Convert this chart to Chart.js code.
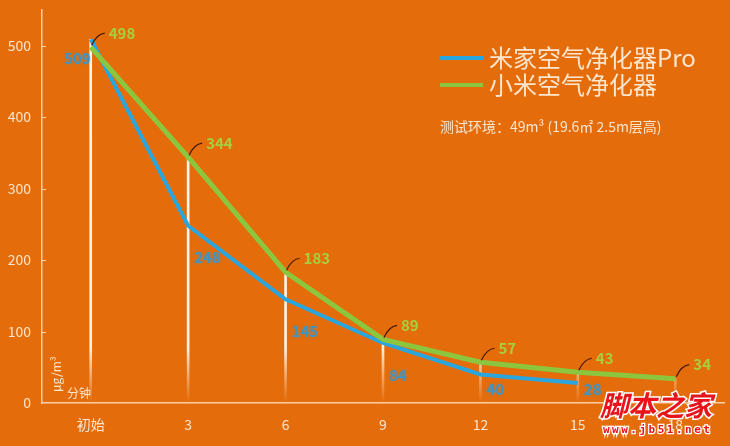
<!DOCTYPE html>
<html>
<head>
<meta charset="utf-8">
<script src="https://cdn.jsdelivr.net/npm/chart.js@4"></script>
<style>
  html, body { margin: 0; padding: 0; background: #e46c0a; }
  #wrap { width: 730px; height: 446px; position: relative; }
</style>
</head>
<body>
<div id="wrap"><canvas id="myChart" width="730" height="446"></canvas></div>
<script>
const minutes = ["初始", "3", "6", "9", "12", "15", "18"];
const proValues = [509, 248, 145, 84, 40, 28, null];
const miValues = [498, 344, 183, 89, 57, 43, 34];
const seriesNames = ["米家空气净化器Pro", "小米空气净化器"];
const yTicks = [0, 100, 200, 300, 400, 500];

const cream = "#fce6cf";
const blue = "#2aa6df";
const green = "#8cc63e";
const font = "'Noto Sans CJK SC', 'Noto Sans', sans-serif";

// drop line height = the higher of the two readings at each minute
const dropValues = minutes.map((m, i) => Math.max(proValues[i] || 0, miValues[i] || 0));

const labelPlugin = {
    id: "labels",
    afterDatasetsDraw(chart) {
        const ctx = chart.ctx;
        const area = chart.chartArea;
        const proMeta = chart.getDatasetMeta(1);
        const miMeta = chart.getDatasetMeta(2);

        ctx.save();
        ctx.font = "bold 15px " + font;
        ctx.textBaseline = "middle";

        // green labels with small leader line
        miMeta.data.forEach((pt, i) => {
            if (miValues[i] == null) return;
            const x = pt.x, y = pt.y;
            ctx.strokeStyle = "#3b1600";
            ctx.lineWidth = 1.2;
            ctx.beginPath();
            ctx.moveTo(x + 1, y - 2);
            ctx.quadraticCurveTo(x + 6, y - 13, x + 14, y - 14);
            ctx.stroke();
            ctx.fillStyle = "#a6cf3f";
            ctx.textAlign = "left";
            ctx.fillText(miValues[i], x + 18, y - 14);
        });

        // blue labels below the line
        ctx.fillStyle = "rgba(52,150,205,0.9)";
        ctx.shadowColor = "rgba(60,160,220,0.6)";
        ctx.shadowBlur = 3;
        proMeta.data.forEach((pt, i) => {
            if (proValues[i] == null) return;
            const x = pt.x, y = pt.y;
            if (i === 0) {
                ctx.textAlign = "right";
                ctx.fillText(proValues[i], x, y + 19);
            } else {
                ctx.textAlign = "left";
                ctx.fillText(proValues[i], x + 6, Math.min(y + 32, area.bottom - 14));
            }
        });
        ctx.restore();

        // small inner tick marks on the y axis
        ctx.save();
        const ys = chart.scales.y;
        ctx.strokeStyle = "#f8cfa6";
        ctx.lineWidth = 1;
        yTicks.forEach((v) => {
            if (v === 0) return;
            const py = Math.round(ys.getPixelForValue(v)) + 0.5;
            ctx.beginPath();
            ctx.moveTo(area.left, py);
            ctx.lineTo(area.left + 4, py);
            ctx.stroke();
        });
        ctx.restore();

        // legend
        ctx.save();
        const colors = [blue, green];
        seriesNames.forEach((name, i) => {
            const ly = 58 + i * 27;
            ctx.strokeStyle = colors[i];
            ctx.lineWidth = 4;
            ctx.beginPath();
            ctx.moveTo(440, ly);
            ctx.lineTo(483, ly);
            ctx.stroke();
            ctx.fillStyle = cream;
            ctx.font = "24px " + font;
            ctx.textAlign = "left";
            ctx.textBaseline = "middle";
            ctx.fillText(name, 489, ly);
        });
        ctx.font = "14px " + font;
        ctx.fillText("测试环境：49m³ (19.6㎡ 2.5m层高)", 440, 127, 228);

        // unit labels
        ctx.font = "12px " + font;
        ctx.fillText("分钟", 67, 393);
        ctx.translate(56, 392);
        ctx.rotate(-Math.PI / 2);
        ctx.fillText("μg/m³", 0, 0);
        ctx.restore();

        // watermark
        ctx.save();
        ctx.textBaseline = "middle";
        ctx.textAlign = "left";
        ctx.font = "italic bold 28px 'Noto Sans CJK SC', serif";
        ctx.lineWidth = 3;
        ctx.strokeStyle = "#ffffff";
        ctx.strokeText("脚本之家", 600, 405);
        ctx.fillStyle = "#e8141c";
        ctx.fillText("脚本之家", 600, 405);
        ctx.font = "bold 11px 'DejaVu Sans Mono', monospace";
        ctx.letterSpacing = "2.5px";
        ctx.lineWidth = 2.5;
        ctx.strokeText("www.jb51.net", 603, 430);
        ctx.fillText("www.jb51.net", 603, 430);
        ctx.restore();
    }
};

const bgPlugin = {
    id: "bg",
    beforeDraw(chart) {
        const ctx = chart.ctx;
        ctx.save();
        ctx.fillStyle = "#e46c0a";
        ctx.fillRect(0, 0, chart.width, chart.height);
        ctx.restore();
    }
};

const ctx = document.getElementById("myChart").getContext("2d");
new Chart(ctx, {
    data: {
        labels: minutes,
        datasets: [
            {
                type: "bar",
                label: "drop",
                data: dropValues,
                barThickness: 2,
                order: 3,
                backgroundColor: (c) => {
                    const area = c.chart.chartArea;
                    if (!area) return "#fff";
                    const g = c.chart.ctx.createLinearGradient(0, area.top, 0, area.bottom);
                    g.addColorStop(0, "rgba(255,248,238,1)");
                    g.addColorStop(0.86, "rgba(255,248,238,0.95)");
                    g.addColorStop(1, "rgba(255,230,200,0)");
                    return g;
                },
            },
            {
                type: "line",
                label: seriesNames[0],
                data: proValues,
                borderColor: blue,
                borderWidth: 4,
                pointRadius: 0,
                tension: 0,
                order: 2,
            },
            {
                type: "line",
                label: seriesNames[1],
                data: miValues,
                borderColor: green,
                borderWidth: 5,
                pointRadius: 0,
                tension: 0,
                order: 1,
            },
        ],
    },
    options: {
        responsive: false,
        animation: false,
        layout: { padding: { top: 10, right: 6, left: 0, bottom: 0 } },
        plugins: { legend: { display: false }, tooltip: { enabled: false } },
        scales: {
            x: {
                offset: true,
                grid: { display: false, drawTicks: false },
                border: { color: "#f8cfa6", width: 1.5 },
                ticks: { color: cream, font: { size: 14, family: font }, padding: 13 },
                afterFit: (s) => { s.height = 43; s.paddingLeft = 0; s.paddingRight = 0; },
            },
            y: {
                min: 0,
                max: 550,
                grid: { display: false, drawTicks: false },
                border: { color: "#f8cfa6", width: 1.5 },
                ticks: {
                    color: cream,
                    font: { size: 14, family: font },
                    padding: 11,
                },
                afterBuildTicks: (s) => { s.ticks = yTicks.map((v) => ({ value: v })); },
                afterFit: (s) => { s.width = 42; s.paddingTop = 0; s.paddingBottom = 0; },
            },
        },
    },
    plugins: [bgPlugin, labelPlugin],
});
</script>
</body>
</html>
